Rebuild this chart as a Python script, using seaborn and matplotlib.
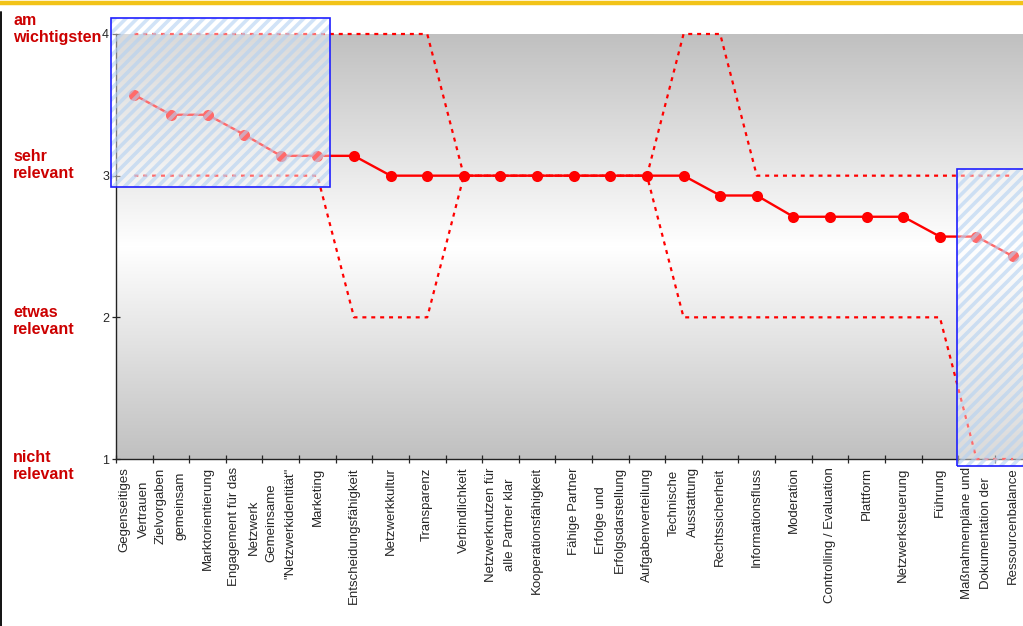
import numpy as np
import matplotlib
matplotlib.use("Agg")
from matplotlib import pyplot as plt
from matplotlib.patches import Rectangle
from matplotlib.colors import LinearSegmentedColormap
from matplotlib.lines import Line2D
from matplotlib.transforms import blended_transform_factory
import seaborn as sns

# Kriterien (x-Achse)
kriterien = [
    "Gegenseitiges\nVertrauen", "Zielvorgaben\ngemeinsam", "Marktorientierung",
    "Engagement für das\nNetzwerk", "Gemeinsame\n\"Netzwerkidentität\"", "Marketing",
    "Entscheidungsfähigkeit", "Netzwerkkultur", "Transparenz", "Verbindlichkeit",
    "Netzwerknutzen für\nalle Partner klar", "Kooperationsfähigkeit", "Fähige Partner",
    "Erfolge und\nErfolgsdarstellung", "Aufgabenverteilung", "Technische\nAusstattung",
    "Rechtssicherheit", "Informationsfluss", "Moderation", "Controlling / Evaluation",
    "Plattform", "Netzwerksteuerung", "Führung", "Maßnahmenpläne und\nDokumentation der",
    "Ressourcenbalance",
]
# Mittelwert, Maximum, Minimum der Bewertungen
mittelwert = [3.57, 3.43, 3.43, 3.29, 3.14, 3.14, 3.14, 3.0, 3.0, 3.0, 3.0, 3.0, 3.0,
              3.0, 3.0, 3.0, 2.86, 2.86, 2.71, 2.71, 2.71, 2.71, 2.57, 2.57, 2.43]
maximum = [4, 4, 4, 4, 4, 4, 4, 4, 4, 3, 3, 3, 3, 3, 3, 4, 4, 3, 3, 3, 3, 3, 3, 3, 3]
minimum = [3, 3, 3, 3, 3, 3, 2, 2, 2, 3, 3, 3, 3, 3, 3, 2, 2, 2, 2, 2, 2, 2, 2, 1, 1]

stufen = [1, 2, 3, 4]
stufen_text = ["nicht\nrelevant", "etwas\nrelevant", "sehr\nrelevant", "am\nwichtigsten"]

# markierte Bereiche (erste / letzte Kriterien)
bereich_links = (0, 5)
bereich_rechts = (23, 24)

ROT = "#ff0000"
DUNKELROT = "#cc0000"

sns.set_style("ticks")
plt.rcParams['font.family'] = ['Liberation Sans', 'DejaVu Sans']
plt.rcParams['hatch.linewidth'] = 2.6

fig = plt.figure(figsize=(10.23, 6.26), dpi=100)
ax = fig.add_axes([116 / 1023, 1 - 459 / 626, (1023 - 116) / 1023, (459 - 34) / 626])

pos = np.arange(len(kriterien))
xmin, xmax = -0.5, 24.27
ax.set_xlim(xmin, xmax)
ax.set_ylim(1, 4)

# Hintergrund: grau -> weiss -> grau
grad = 1 - np.abs(np.linspace(-1, 1, 256))[:, None]
cmap = LinearSegmentedColormap.from_list("grau", ["#c0c0c0", "#ffffff"])
ax.imshow(grad, extent=[xmin, xmax, 1, 4], aspect="auto", cmap=cmap,
          origin="lower", zorder=0, interpolation="bilinear")

punkte = dict(color=ROT, linewidth=1.6, zorder=3, ax=ax)
sns.lineplot(x=pos, y=maximum, linestyle=(0, (1.8, 2.2)), clip_on=False, **punkte)
sns.lineplot(x=pos, y=minimum, linestyle=(0, (1.8, 2.2)), clip_on=False, **punkte)
sns.lineplot(x=pos, y=mittelwert, marker="o", markersize=8, markeredgewidth=0,
             color=ROT, linewidth=1.7, zorder=4, ax=ax)

# schraffierte Kästen
def kasten(i0, i1, y0, y1, pad_l, pad_r):
    x0 = i0 - pad_l
    w = (i1 + pad_r) - x0
    ax.add_patch(Rectangle((x0, y0), w, y1 - y0, facecolor=(1, 1, 1, 0.42),
                           edgecolor=(0.70, 0.82, 0.95, 0.6), hatch="///",
                           linewidth=0, clip_on=False, zorder=6))
    ax.add_patch(Rectangle((x0, y0), w, y1 - y0, fill=False, edgecolor="#1f1fff",
                           linewidth=1.2, clip_on=False, zorder=7))

kasten(*bereich_links, 2.92, 4.113, 0.63, 0.345)
kasten(*bereich_rechts, 0.95, 3.047, 0.53, 0.8)

# Achsen
ax.set_xticks(np.arange(-0.5, len(kriterien) - 0.5, 1))
ax.set_xticklabels([])
ax.set_xticks(pos, minor=True)
ax.set_xticklabels(kriterien, minor=True, rotation=90, ha="center", va="top",
                   multialignment="center", fontsize=9.5)
for lbl in ax.get_xticklabels(minor=True):
    lbl.set_linespacing(1.85)
ax.tick_params(axis="x", which="major", direction="inout", length=6, width=0.9)
ax.tick_params(axis="x", which="minor", length=0, pad=6)
ax.set_yticks(stufen)
ax.set_yticklabels([str(s) for s in stufen], fontsize=9)
ax.tick_params(axis="y", direction="inout", length=6, width=0.9, pad=2)
ax.spines[["top", "right"]].set_visible(False)
for s in ["left", "bottom"]:
    ax.spines[s].set_color("#222222")
    ax.spines[s].set_linewidth(1.0)

# Stufenbeschriftung links
text_y = [0.95, 1.975, 3.075, 4.035]
trans = blended_transform_factory(fig.transFigure, ax.transData)
for ty, txt in zip(text_y, stufen_text):
    ax.text(13 / 1023, ty, txt, transform=trans, ha="left", va="center",
            fontsize=11.5, fontweight="bold", color=DUNKELROT, linespacing=1.2,
            zorder=8)

# Rahmen oben / links
fig.add_artist(Line2D([0, 1], [1 - 3 / 626, 1 - 3 / 626], color="#f2c318",
                      linewidth=3.2, transform=fig.transFigure))
fig.add_artist(Line2D([0.0008, 0.0008], [0, 1 - 12 / 626], color="#111111",
                      linewidth=1.4, transform=fig.transFigure))

fig.savefig("out.png", dpi=100)
